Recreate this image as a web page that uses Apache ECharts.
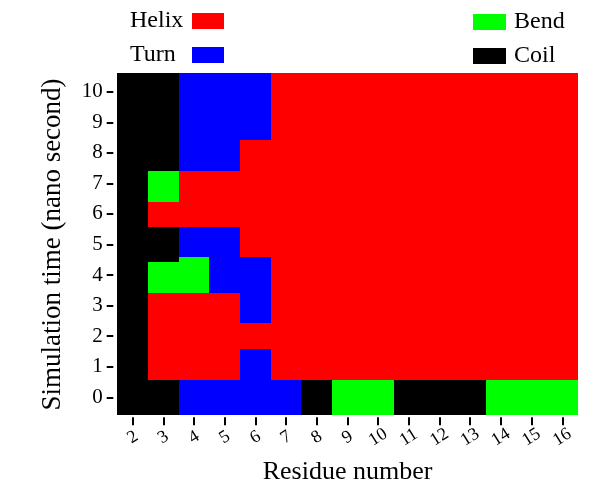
<!DOCTYPE html>
<html>
<head>
<meta charset="utf-8">
<script src="https://cdn.jsdelivr.net/npm/echarts@6/dist/echarts.min.js"></script>
<style>html,body{margin:0;padding:0;background:#fff}#c{width:600px;height:490px}</style>
</head>
<body>
<div id="c"></div>
<script>
// Residue numbers (x) and time tick labels (y, ns)
const residues = [2, 3, 4, 5, 6, 7, 8, 9, 10, 11, 12, 13, 14, 15, 16];
const timeTicks = [0, 1, 2, 3, 4, 5, 6, 7, 8, 9, 10];

// Secondary-structure segments: [residue, start time (ns), end time (ns)]
const helix = [
  [3, 0.58, 3.40], [3, 5.58, 6.40],
  [4, 0.58, 3.40], [4, 5.58, 7.42],
  [5, 0.58, 3.40], [5, 5.58, 7.42],
  [6, 1.57, 2.42], [6, 4.60, 8.42],
  [7, 0.58, 10.60], [8, 0.58, 10.60], [9, 0.58, 10.60], [10, 0.58, 10.60],
  [11, 0.58, 10.60], [12, 0.58, 10.60], [13, 0.58, 10.60], [14, 0.58, 10.60],
  [15, 0.58, 10.60], [16, 0.58, 10.60]
];
const turn = [
  [4, -0.58, 0.58], [4, 4.60, 5.58], [4, 7.42, 10.60],
  [5, -0.58, 0.58], [5, 3.40, 5.58], [5, 7.42, 10.60],
  [6, -0.58, 1.57], [6, 2.42, 4.60], [6, 8.42, 10.60],
  [7, -0.58, 0.58]
];
const bend = [
  [3, 3.40, 4.42], [3, 6.40, 7.42],
  [4, 3.40, 4.60],
  [9, -0.58, 0.58], [10, -0.58, 0.58],
  [14, -0.58, 0.58], [15, -0.58, 0.58], [16, -0.58, 0.58]
];
const coil = [
  [2, -0.58, 10.60],
  [3, -0.58, 0.58], [3, 4.42, 5.58], [3, 7.42, 10.60],
  [8, -0.58, 0.58],
  [11, -0.58, 0.58], [12, -0.58, 0.58], [13, -0.58, 0.58]
];

const FONT = 'Liberation Serif';

function renderItem(params, api) {
  const r = api.value(0), t0 = api.value(1), t1 = api.value(2);
  const p0 = api.coord([r - 0.5, t1]);
  const p1 = api.coord([r + 0.5, t0]);
  const x0 = Math.round(p0[0]), y0 = Math.round(p0[1]);
  const x1 = Math.round(p1[0]), y1 = Math.round(p1[1]);
  return {
    type: 'rect',
    shape: { x: x0, y: y0, width: x1 - x0, height: y1 - y0 },
    style: { fill: api.visual('color') }
  };
}

function seg(name, data, color) {
  return {
    name: name, type: 'custom', renderItem: renderItem, clip: false,
    itemStyle: { color: color },
    encode: { x: 0, y: [1, 2] },
    data: data
  };
}

const chart = echarts.init(document.getElementById('c'), null, { renderer: 'canvas' });
const legendText = {
  color: '#000', fontFamily: FONT, fontSize: 24, lineHeight: 24,
  rich: { a: { width: 57, align: 'left', fontFamily: FONT, fontSize: 24, color: '#000' } }
};
chart.setOption({
  animation: false,
  backgroundColor: '#fff',
  legend: [
    {
      data: ['Helix', 'Turn'], orient: 'vertical', align: 'right',
      left: 130, top: 9, padding: 0, itemGap: 10,
      itemWidth: 32, itemHeight: 16, icon: 'rect',
      formatter: '{a|{name}}', textStyle: legendText, selectedMode: false
    },
    {
      data: ['Bend', 'Coil'], orient: 'vertical', align: 'left',
      left: 473, top: 10, padding: 0, itemGap: 10,
      itemWidth: 33, itemHeight: 16, icon: 'rect',
      textStyle: { color: '#000', fontFamily: FONT, fontSize: 24, lineHeight: 24, padding: [0, 0, 0, 3] },
      selectedMode: false
    }
  ],
  grid: {
    left: 132.7, right: 37.7, top: 91.7, bottom: 92.7,
    containLabel: false, outerBoundsMode: 'none'
  },
  xAxis: {
    type: 'value',
    min: residues[0], max: residues[residues.length - 1], interval: 1,
    offset: 20,
    name: 'Residue number', nameLocation: 'middle', nameGap: 42, nameMoveOverlap: false,
    nameTextStyle: { fontFamily: FONT, fontSize: 26, color: '#000' },
    axisLine: { show: false, onZero: false },
    axisTick: { show: true, inside: false, length: 8, lineStyle: { color: '#000', width: 2 } },
    splitLine: { show: false },
    axisLabel: {
      rotate: 32, align: 'center', verticalAlign: 'middle', margin: 20,
      fontFamily: FONT, fontSize: 18, color: '#000'
    }
  },
  yAxis: {
    type: 'value',
    min: timeTicks[0], max: timeTicks[timeTicks.length - 1], interval: 1,
    offset: 19.4,
    name: 'Simulation time (nano second)', nameLocation: 'middle', nameGap: 47, nameMoveOverlap: false,
    nameTextStyle: { fontFamily: FONT, fontSize: 27, color: '#000' },
    axisLine: { show: false, onZero: false },
    axisTick: { show: true, length: 6.6, lineStyle: { color: '#000', width: 2 } },
    splitLine: { show: false },
    axisLabel: { margin: 10.6, fontFamily: FONT, fontSize: 21, color: '#000' }
  },
  series: [
    seg('Helix', helix, '#ff0000'),
    seg('Turn', turn, '#0000ff'),
    seg('Bend', bend, '#00ff00'),
    seg('Coil', coil, '#000000')
  ]
});
</script>
</body>
</html>
